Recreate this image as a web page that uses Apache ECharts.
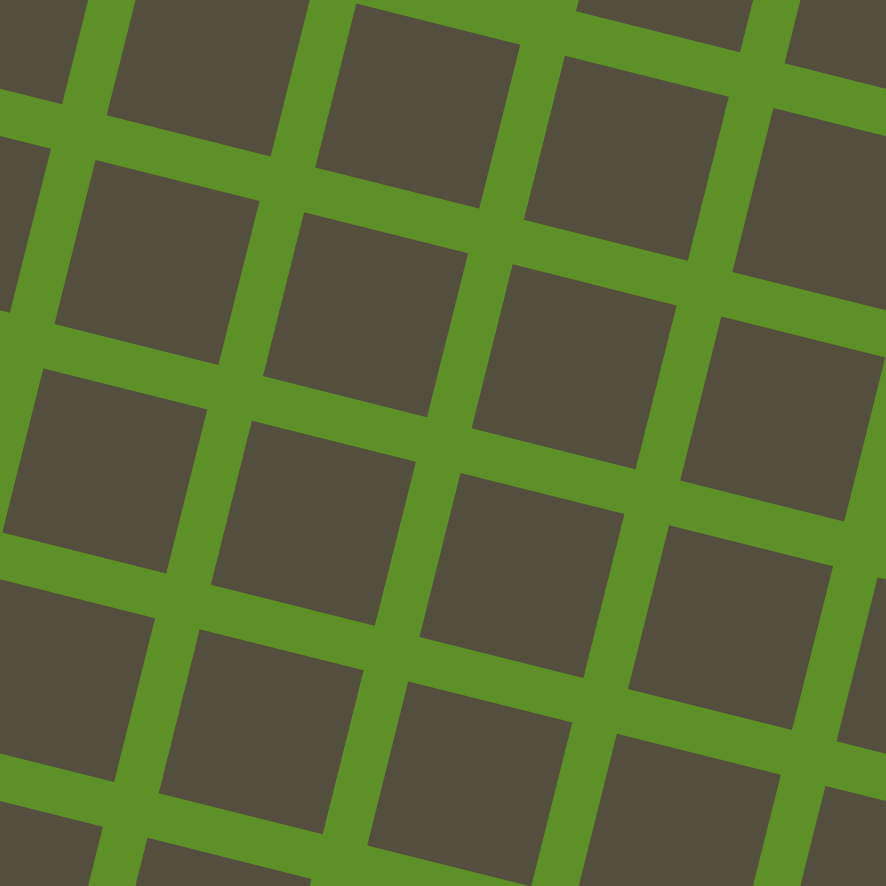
<!DOCTYPE html>
<html><head><meta charset="utf-8">
<style>html,body{margin:0;padding:0;background:#5D9027}#c{width:886px;height:886px}</style>
<script src="https://cdn.jsdelivr.net/npm/echarts@6/dist/echarts.min.js"></script>
</head><body><div id="c"></div>
<script>
// lattice indices of the tiles (column, row)
const columns = [-3, -2, -1, 0, 1, 2, 3, 4];
const rows = [-2, -1, 0, 1, 2, 3, 4, 5];
const cells = [];
columns.forEach(c => rows.forEach(r => cells.push([c, r])));

const chart = echarts.init(document.getElementById('c'));
// tile geometry in axis units
const ORIGIN = [356.3, 3.6];
const ANG = 14.05 * Math.PI / 180;
const PERIOD = 215;
const SIDE = 169;
const cs = Math.cos(ANG), sn = Math.sin(ANG);

chart.setOption({
  backgroundColor: '#5D9027',
  animation: false,
  grid: {left: 0, right: 0, top: 0, bottom: 0},
  xAxis: {type: 'value', min: 0, max: 886, show: false},
  yAxis: {type: 'value', min: 0, max: 886, inverse: true, show: false},
  graphic: [{
    type: 'text', right: 17, bottom: 12,
    style: {text: 'pixlis.com', fill: '#5E6239', font: '9px "DejaVu Sans"'}
  }],
  series: [{
    type: 'custom',
    clip: true,
    data: cells,
    renderItem: function (params, api) {
      const c = api.value(0), r = api.value(1);
      const x0 = ORIGIN[0] + c * PERIOD * cs - r * PERIOD * sn;
      const y0 = ORIGIN[1] + c * PERIOD * sn + r * PERIOD * cs;
      const pts = [
        [x0, y0],
        [x0 + SIDE * cs, y0 + SIDE * sn],
        [x0 + SIDE * cs - SIDE * sn, y0 + SIDE * sn + SIDE * cs],
        [x0 - SIDE * sn, y0 + SIDE * cs]
      ].map(p => api.coord(p));
      return {type: 'polygon', shape: {points: pts}, style: {fill: '#534E3D'}};
    }
  }]
});
</script></body></html>
